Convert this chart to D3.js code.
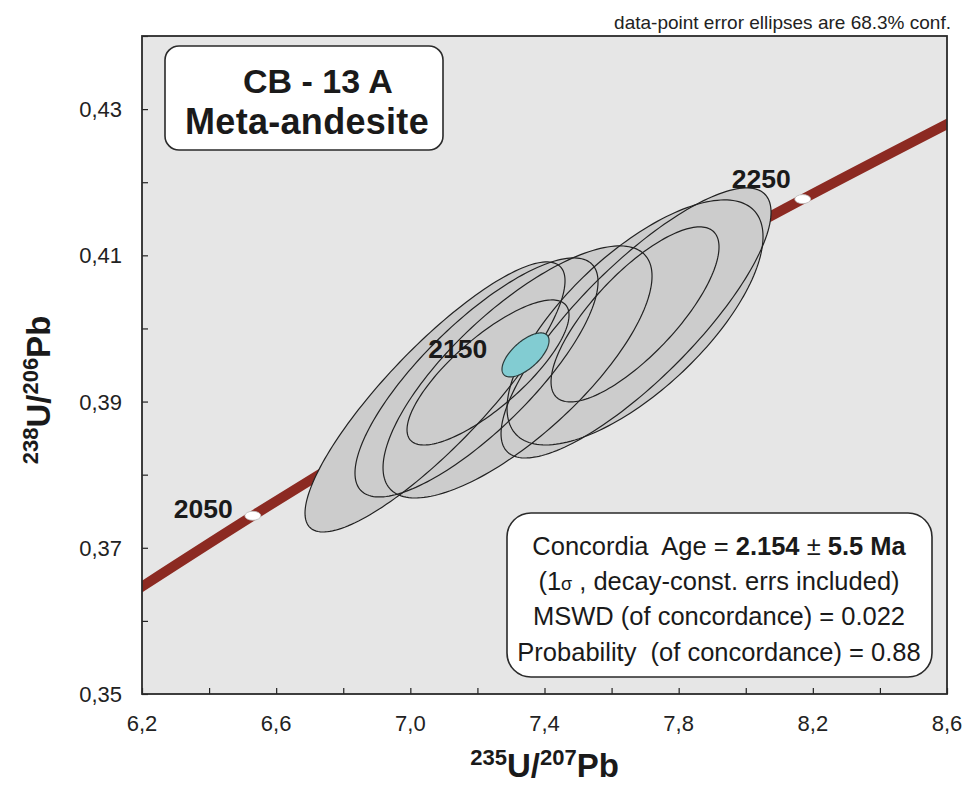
<!DOCTYPE html>
<html>
<head>
<meta charset="utf-8">
<script src="https://cdn.jsdelivr.net/npm/d3@7"></script>
<style>
  body { margin: 0; background: #ffffff; }
  svg { display: block; font-family: "Liberation Sans", Arial, Helvetica, sans-serif; }
  .pre { white-space: pre; }
</style>
</head>
<body>
<svg id="chart" width="965" height="785"></svg>
<script>
// ---- Axis ticks ----
const xTickValues = [6.2, 6.4, 6.6, 6.8, 7.0, 7.2, 7.4, 7.6, 7.8, 8.0, 8.2, 8.4, 8.6];
const xTickLabels = ["6,2", "", "6,6", "", "7,0", "", "7,4", "", "7,8", "", "8,2", "", "8,6"];
const yTickValues = [0.35, 0.36, 0.37, 0.38, 0.39, 0.40, 0.41, 0.42, 0.43, 0.44];
const yTickLabels = ["0,35", "", "0,37", "", "0,39", "", "0,41", "", "0,43", ""];

// ---- Concordia curve (age in Ma, 207Pb/235U, 206Pb/238U) ----
const concordiaAge = [2000, 2050, 2100, 2150, 2200, 2250, 2300];
const concordiaX = [6.1685, 6.5304, 6.9105, 7.3097, 7.7292, 8.1699, 8.6327];
const concordiaY = [0.36376, 0.37438, 0.38509, 0.39587, 0.40674, 0.41769, 0.42873];
const markerAges = [2050, 2150, 2250];

// ---- Zircon spot analyses: centre, half-extent in x and y, error correlation ----
const spotX   = [7.0736, 7.1973, 7.3196, 7.6729, 7.6699, 7.6699, 7.2316];
const spotY   = [0.39063, 0.39330, 0.39405, 0.40075, 0.40082, 0.40192, 0.39398];
const spotSx  = [0.3876, 0.3623, 0.4010, 0.4025, 0.3816, 0.2504, 0.2415];
const spotSy  = [0.01847, 0.01635, 0.01724, 0.01847, 0.01676, 0.01197, 0.00992];
const spotRho = [0.86, 0.80, 0.76, 0.82, 0.70, 0.77, 0.79];

// ---- Concordia age ellipse ----
const concX = [7.3434], concY = [0.39638], concSx = [0.0701], concSy = [0.00301], concRho = [0.65];

const svg = d3.select("#chart");
const margin = { left: 142, right: 18, top: 36, bottom: 91 };
const W = 965, H = 785;

const x = d3.scaleLinear().domain([6.2, 8.6]).range([margin.left, W - margin.right]);
const y = d3.scaleLinear().domain([0.35, 0.44]).range([H - margin.bottom, margin.top]);

// plot background
svg.append("rect")
  .attr("x", x(6.2)).attr("y", y(0.44))
  .attr("width", x(8.6) - x(6.2)).attr("height", y(0.35) - y(0.44))
  .attr("fill", "#e6e6e6");

svg.append("clipPath").attr("id", "plotClip")
  .append("rect")
  .attr("x", x(6.2)).attr("y", y(0.44))
  .attr("width", x(8.6) - x(6.2)).attr("height", y(0.35) - y(0.44));

const plot = svg.append("g").attr("clip-path", "url(#plotClip)");

// concordia band
const concPts = concordiaAge.map((a, i) => [concordiaX[i], concordiaY[i]]);
plot.append("path")
  .datum(concPts)
  .attr("d", d3.line().x(d => x(d[0])).y(d => y(d[1])).curve(d3.curveMonotoneX))
  .attr("fill", "none")
  .attr("stroke", "#8c2a22")
  .attr("stroke-width", 10);

// age markers on the concordia
const markers = markerAges.map(a => {
  const i = concordiaAge.indexOf(a);
  return { age: a, cx: concordiaX[i], cy: concordiaY[i] };
});
plot.selectAll("ellipse.marker").data(markers).enter().append("ellipse")
  .attr("class", "marker")
  .attr("cx", d => x(d.cx)).attr("cy", d => y(d.cy))
  .attr("rx", 8).attr("ry", 4.5)
  .attr("fill", "#ffffff").attr("stroke", "#bbbbbb").attr("stroke-width", 0.8);

// error ellipse outline in data space
function ellipsePoints(cx, cy, sx, sy, rho) {
  const pts = [];
  const s = Math.sqrt(1 - rho * rho);
  for (let k = 0; k < 180; k++) {
    const t = (k / 180) * 2 * Math.PI;
    pts.push([cx + sx * Math.cos(t), cy + sy * (rho * Math.cos(t) + s * Math.sin(t))]);
  }
  return pts;
}
const ellLine = d3.line().x(d => x(d[0])).y(d => y(d[1])).curve(d3.curveLinearClosed);

const spots = spotX.map((v, i) => ellipsePoints(v, spotY[i], spotSx[i], spotSy[i], spotRho[i]));

plot.selectAll("path.spotFill").data(spots).enter().append("path")
  .attr("class", "spotFill")
  .attr("d", ellLine)
  .attr("fill", "#cccccc")
  .attr("stroke", "none");

plot.selectAll("path.spotEdge").data(spots).enter().append("path")
  .attr("class", "spotEdge")
  .attr("d", ellLine)
  .attr("fill", "none")
  .attr("stroke", "#222222")
  .attr("stroke-width", 1.2);

const concEll = concX.map((v, i) => ellipsePoints(v, concY[i], concSx[i], concSy[i], concRho[i]));
plot.selectAll("path.concEll").data(concEll).enter().append("path")
  .attr("class", "concEll")
  .attr("d", ellLine)
  .attr("fill", "#82ccd2")
  .attr("stroke", "#2a3a3a")
  .attr("stroke-width", 1.2);

// age labels
const labelOffset = { 2050: [-20, 2], 2150: [-27, -1], 2250: [-12, -11] };
svg.selectAll("text.ageLabel").data(markers).enter().append("text")
  .attr("class", "ageLabel")
  .attr("x", d => x(d.cx) + labelOffset[d.age][0])
  .attr("y", d => y(d.cy) + labelOffset[d.age][1])
  .attr("text-anchor", "end")
  .attr("font-size", 26.5).attr("font-weight", "bold").attr("fill", "#1a1a1a")
  .text(d => d.age);

// axes (ticks pointing inward)
const xAxis = d3.axisBottom(x).tickValues(xTickValues).tickSize(-6).tickFormat(() => "");
svg.append("g").attr("transform", `translate(0,${y(0.35)})`).call(xAxis)
  .call(g => g.select(".domain").remove())
  .call(g => g.selectAll(".tick line").attr("stroke", "#222").attr("stroke-width", 1.2));

const yAxis = d3.axisLeft(y).tickValues(yTickValues).tickSize(-6).tickFormat(() => "");
svg.append("g").attr("transform", `translate(${x(6.2)},0)`).call(yAxis)
  .call(g => g.select(".domain").remove())
  .call(g => g.selectAll(".tick line").attr("stroke", "#222").attr("stroke-width", 1.2));

// tick labels
svg.selectAll("text.xlab").data(xTickValues).enter().append("text")
  .attr("class", "xlab")
  .attr("x", d => x(d)).attr("y", y(0.35) + 37)
  .attr("text-anchor", "middle").attr("font-size", 22).attr("fill", "#222")
  .text((d, i) => xTickLabels[i]);

svg.selectAll("text.ylab").data(yTickValues).enter().append("text")
  .attr("class", "ylab")
  .attr("x", x(6.2) - 20).attr("y", d => y(d) + 8)
  .attr("text-anchor", "end").attr("font-size", 22).attr("fill", "#222")
  .text((d, i) => yTickLabels[i]);

// frame
svg.append("rect")
  .attr("x", x(6.2)).attr("y", y(0.44))
  .attr("width", x(8.6) - x(6.2)).attr("height", y(0.35) - y(0.44))
  .attr("fill", "none").attr("stroke", "#2a2a2a").attr("stroke-width", 1.8);

// axis titles
const xt = svg.append("text")
  .attr("x", (x(6.2) + x(8.6)) / 2).attr("y", 777)
  .attr("text-anchor", "middle").attr("font-weight", "bold").attr("fill", "#1a1a1a");
xt.append("tspan").attr("font-size", 22).attr("dy", -12).text("235");
xt.append("tspan").attr("font-size", 33).attr("dy", 12).text("U/");
xt.append("tspan").attr("font-size", 22).attr("dy", -12).text("207");
xt.append("tspan").attr("font-size", 33).attr("dy", 12).text("Pb");

const yt = svg.append("text")
  .attr("transform", "translate(50,390) rotate(-90)")
  .attr("text-anchor", "middle").attr("font-weight", "bold").attr("fill", "#1a1a1a");
yt.append("tspan").attr("font-size", 22).attr("dy", -12).text("238");
yt.append("tspan").attr("font-size", 33).attr("dy", 12).text("U/");
yt.append("tspan").attr("font-size", 22).attr("dy", -12).text("206");
yt.append("tspan").attr("font-size", 33).attr("dy", 12).text("Pb");

// top note
svg.append("text")
  .attr("x", 951).attr("y", 29)
  .attr("text-anchor", "end").attr("font-size", 19).attr("fill", "#222")
  .text("data-point error ellipses are 68.3% conf.");

// sample box
svg.append("rect")
  .attr("x", 165).attr("y", 46).attr("width", 278).attr("height", 104).attr("rx", 14)
  .attr("fill", "#ffffff").attr("stroke", "#2a2a2a").attr("stroke-width", 1.6);
svg.append("text").attr("x", 318).attr("y", 93).attr("text-anchor", "middle")
  .attr("font-size", 34).attr("font-weight", "bold").attr("fill", "#1a1a1a").text("CB - 13 A");
svg.append("text").attr("x", 307).attr("y", 134).attr("text-anchor", "middle")
  .attr("font-size", 36).attr("font-weight", "bold").attr("letter-spacing", 0.3)
  .attr("fill", "#1a1a1a").text("Meta-andesite");

// concordia age box
svg.append("rect")
  .attr("x", 507).attr("y", 513).attr("width", 425).attr("height", 164).attr("rx", 24)
  .attr("fill", "#ffffff").attr("stroke", "#2a2a2a").attr("stroke-width", 1.6);

const bx = 719, fs = 25.5;
const l1 = svg.append("text").attr("class", "pre").attr("x", bx).attr("y", 555).attr("text-anchor", "middle")
  .attr("font-size", fs).attr("fill", "#1a1a1a");
l1.append("tspan").text("Concordia  Age = ");
l1.append("tspan").attr("font-weight", "bold").text("2.154");
l1.append("tspan").text(" ± ");
l1.append("tspan").attr("font-weight", "bold").text("5.5 Ma");

const l2 = svg.append("text").attr("class", "pre").attr("x", bx).attr("y", 590).attr("text-anchor", "middle")
  .attr("font-size", fs).attr("fill", "#1a1a1a");
l2.append("tspan").text("(1");
l2.append("tspan").attr("font-size", 18).text("σ");
l2.append("tspan").text(" , decay-const. errs included)");

svg.append("text").attr("class", "pre").attr("x", bx).attr("y", 625).attr("text-anchor", "middle")
  .attr("font-size", fs).attr("fill", "#1a1a1a").text("MSWD (of concordance) = 0.022");
svg.append("text").attr("class", "pre").attr("x", bx).attr("y", 661).attr("text-anchor", "middle")
  .attr("font-size", fs).attr("fill", "#1a1a1a").text("Probability  (of concordance) = 0.88");
</script>
</body>
</html>
